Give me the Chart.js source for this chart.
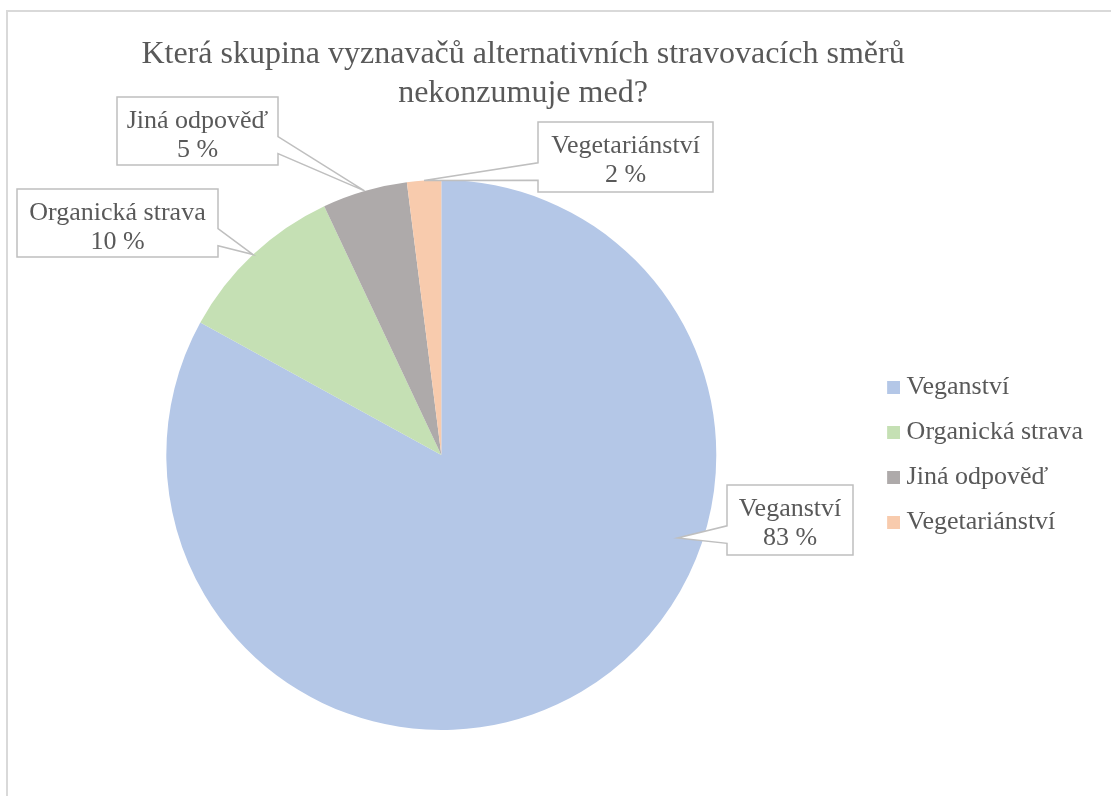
<!DOCTYPE html>
<html>
<head>
<meta charset="utf-8">
<script src="https://cdn.jsdelivr.net/npm/chart.js@4/dist/chart.umd.min.js"></script>
<style>
  html, body { margin: 0; padding: 0; background: #ffffff; }
  #wrap { width: 1111px; height: 796px; position: relative; }
  canvas { display: block; }
</style>
</head>
<body>
<div id="wrap"><canvas id="c" width="1111" height="796"></canvas></div>
<script>
// ---- Data ----
const titleLines = ['Která skupina vyznavačů alternativních stravovacích směrů', 'nekonzumuje med?'];
const categories = ['Veganství', 'Organická strava', 'Jiná odpověď', 'Vegetariánství'];
const values = [83, 10, 5, 2];
const valueSuffix = ' %';

// ---- Styles ----
const colors = ['#B4C7E7', '#C5E0B4', '#AEAAAA', '#F8CBAD'];
const textColor = '#595959';
const serif = '"Liberation Serif", "Times New Roman", serif';

// Callout layout: box [x, y, w, h], tip position along the slice (fraction of the angle) and radius fraction
const calloutLayout = [
  { box: [727, 485, 126, 70], t: 0.366, rf: 0.91 },
  { box: [17, 189, 201, 68], t: 0.5, rf: 1.0 },
  { box: [117, 97, 161, 68], t: 0.5, rf: 1.0 },
  { box: [538, 122, 175, 70], t: 0.5, rf: 1.0 }
];

function makeSwatch(color) {
  const c = document.createElement('canvas');
  c.width = 26; c.height = 13;
  const g = c.getContext('2d');
  g.fillStyle = color;
  g.fillRect(13, 0, 13, 13);
  return c;
}
const swatches = colors.map(makeSwatch);

function calloutPath(ctx, bx, by, w, h, tx, ty) {
  const hc = bx + w / 2, vc = by + h / 2;
  const dx = tx - hc, dy = ty - vc;
  const dq = dx * h / w;
  const dz = Math.abs(dy) - Math.abs(dq);
  const x1 = bx + w * (dx > 0 ? 7 : 2) / 12, x2 = bx + w * (dx > 0 ? 10 : 5) / 12;
  const y1 = by + h * (dy > 0 ? 7 : 2) / 12, y2 = by + h * (dy > 0 ? 10 : 5) / 12;
  ctx.beginPath();
  ctx.moveTo(bx, by);
  if (dz > 0 && dy < 0) { ctx.lineTo(x1, by); ctx.lineTo(tx, ty); ctx.lineTo(x2, by); }
  ctx.lineTo(bx + w, by);
  if (dz <= 0 && dx > 0) { ctx.lineTo(bx + w, y1); ctx.lineTo(tx, ty); ctx.lineTo(bx + w, y2); }
  ctx.lineTo(bx + w, by + h);
  if (dz > 0 && dy > 0) { ctx.lineTo(x2, by + h); ctx.lineTo(tx, ty); ctx.lineTo(x1, by + h); }
  ctx.lineTo(bx, by + h);
  if (dz <= 0 && dx < 0) { ctx.lineTo(bx, y2); ctx.lineTo(tx, ty); ctx.lineTo(bx, y1); }
  ctx.closePath();
}

const framePlugin = {
  id: 'frame',
  beforeDraw(chart) {
    const ctx = chart.ctx;
    ctx.save();
    ctx.fillStyle = '#ffffff';
    ctx.fillRect(0, 0, chart.width, chart.height);
    ctx.strokeStyle = '#D9D9D9';
    ctx.lineWidth = 2;
    ctx.beginPath();
    ctx.moveTo(7, chart.height);
    ctx.lineTo(7, 11);
    ctx.lineTo(chart.width, 11);
    ctx.stroke();
    // title
    ctx.fillStyle = textColor;
    ctx.font = '32px ' + serif;
    ctx.textAlign = 'center';
    ctx.textBaseline = 'alphabetic';
    ctx.fillText(titleLines[0], 523, 63);
    ctx.fillText(titleLines[1], 523, 102);
    ctx.restore();
  }
};

const calloutPlugin = {
  id: 'callouts',
  afterDatasetsDraw(chart) {
    const ctx = chart.ctx;
    const meta = chart.getDatasetMeta(0);
    ctx.save();
    meta.data.forEach((arc, i) => {
      const p = arc.getProps(['x', 'y', 'startAngle', 'endAngle', 'outerRadius'], true);
      const L = calloutLayout[i];
      const a = p.startAngle + L.t * (p.endAngle - p.startAngle);
      const r = L.rf * p.outerRadius;
      const tx = p.x + Math.cos(a) * r;
      const ty = p.y + Math.sin(a) * r;
      const [bx, by, w, h] = L.box;
      calloutPath(ctx, bx, by, w, h, tx, ty);
      ctx.fillStyle = '#ffffff';
      ctx.fill();
      ctx.strokeStyle = '#BFBFBF';
      ctx.lineWidth = 1.5;
      ctx.lineJoin = 'miter';
      ctx.stroke();
      ctx.fillStyle = textColor;
      ctx.font = '26px ' + serif;
      ctx.textAlign = 'center';
      ctx.textBaseline = 'alphabetic';
      const cx = bx + w / 2;
      ctx.fillText(chart.data.labels[i], cx, by + 31);
      ctx.fillText(chart.data.datasets[0].data[i] + valueSuffix, cx, by + 60);
    });
    ctx.restore();
  }
};

new Chart(document.getElementById('c'), {
  type: 'pie',
  data: {
    labels: categories,
    datasets: [{
      data: values,
      backgroundColor: colors,
      borderColor: '#ffffff',
      borderWidth: 0,
      hoverOffset: 0,
      offset: 0
    }]
  },
  options: {
    responsive: false,
    animation: false,
    events: [],
    layout: { padding: { top: 180, bottom: 66, left: 21, right: 18 } },
    plugins: {
      title: { display: false },
      tooltip: { enabled: false },
      legend: {
        display: true,
        position: 'right',
        align: 'center',
        labels: {
          color: textColor,
          font: { family: serif, size: 26 },
          boxWidth: 13,
          boxHeight: 13,
          padding: 19,
          usePointStyle: true,
          generateLabels(chart) {
            const base = Chart.overrides.pie.plugins.legend.labels.generateLabels(chart);
            return base.map((l, i) => Object.assign({}, l, { pointStyle: swatches[i], fontColor: textColor }));
          }
        }
      }
    }
  },
  plugins: [framePlugin, calloutPlugin]
});
</script>
</body>
</html>
